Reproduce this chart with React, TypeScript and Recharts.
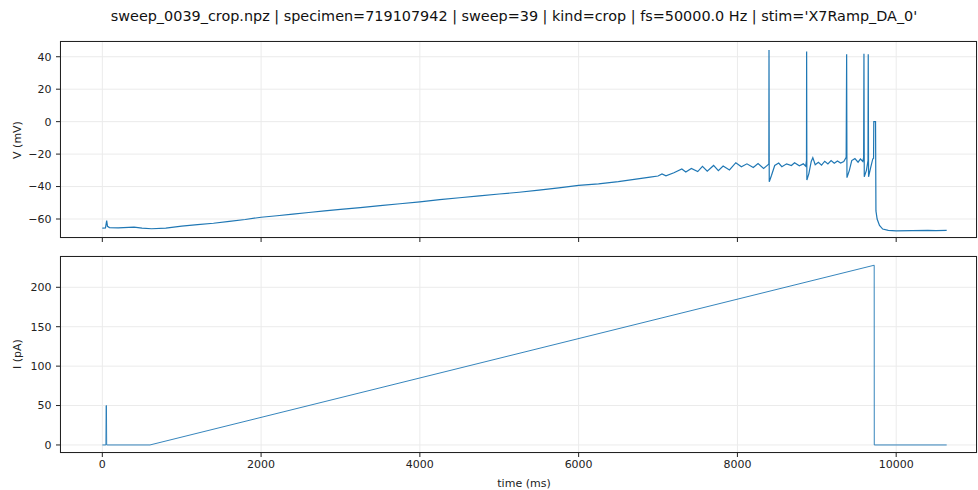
import React from "react"
import { LineChart, Line, XAxis, YAxis, CartesianGrid } from "recharts"

// time (ms) / membrane voltage (mV)
const vTime = [
  0, 40, 55, 65, 90, 200, 400, 500, 620, 800, 1000, 1200, 1400, 1600, 1800, 2000, 2200, 2400, 2600, 2800,
  3000, 3250, 3500, 3750, 4000, 4250, 4500, 4750, 5000, 5250, 5500, 5750, 6000, 6250, 6500, 6700, 6900,
  7000, 7050, 7100, 7200, 7300, 7350, 7420, 7500, 7560, 7620, 7700, 7760, 7820, 7900, 7980, 8050, 8120,
  8200, 8260, 8330, 8380, 8396, 8398, 8401, 8430, 8470, 8520, 8560, 8620, 8680, 8720, 8780, 8830, 8860,
  8870, 8872, 8875, 8900, 8930, 8950, 8980, 9020, 9060, 9100, 9140, 9180, 9220, 9260, 9300, 9340, 9370,
  9376, 9380, 9410, 9440, 9480, 9520, 9550, 9580, 9590, 9594, 9598, 9625, 9645, 9648, 9652, 9680, 9705,
  9715, 9718, 9740, 9745, 9760, 9790, 9830, 9900, 10000, 10200, 10400, 10500, 10636,
]
const vValues = [
  -65.6, -65.5, -61, -64.5, -65.3, -65.4, -65.0, -65.6, -66.0, -65.6, -64.4, -63.5, -62.6, -61.4, -60.3,
  -58.9, -58.0, -57.0, -56.0, -55.0, -54.1, -53.0, -51.8, -50.6, -49.4, -48.0, -46.9, -45.8, -44.6, -43.5,
  -42.2, -40.8, -39.3, -38.3, -37.0, -35.6, -34.2, -33.5, -32.2, -33.4, -31.5, -29.2, -31.0, -28.8, -30.8,
  -27.6, -30.5, -27.0, -30.2, -27.3, -29.8, -25.3, -27.8, -26.0, -28.3, -25.8, -28.8, -26.8, -26.0, 44.2,
  -37.0, -33.0, -27.0, -25.5, -27.8, -26.0, -27.0, -25.3, -27.2, -26.0, -27.5, -24.0, 43.2, -36.0, -32.0,
  -24.5, -22.2, -26.5, -25.0, -26.8, -24.4, -26.0, -24.0, -25.6, -24.2, -25.5, -24.6, -22.0, 41.5, -34.5,
  -30.0, -24.0, -22.8, -25.0, -23.0, -24.5, -22.0, 41.8, -34.0, -30.0, -24.0, 41.5, -34.0, -28.0, -23.0,
  -22.5, 0, 0, -55, -60, -64, -66.2, -67.0, -67.3, -67.1, -67.0, -67.1, -67.0,
]

// time (ms) / injected current (pA)
const iTime = [0, 45, 48, 52, 55, 600, 9723, 9724, 10636]
const iValues = [0, 0, 50, 50, 0, 0, 228, 0, 0]

const xTicks = [0, 2000, 4000, 6000, 8000, 10000]
const vTicks = [-60, -40, -20, 0, 20, 40]
const iTicks = [0, 50, 100, 150, 200]

const titleText =
  "sweep_0039_crop.npz | specimen=719107942 | sweep=39 | kind=crop | fs=50000.0 Hz | stim='X7Ramp_DA_0'"

const vData = vTime.map((t, i) => ({ t, v: vValues[i] }))
const iData = iTime.map((t, i) => ({ t, v: iValues[i] }))

const font = "'DejaVu Sans', sans-serif"
const tickStyle = { fontSize: 11, fill: "#222", fontFamily: font }
const blue = "#1f77b4"
const minus = (v: number) => String(v).replace("-", "\u2212")

export default function App() {
  return (
    <div style={{ position: "absolute", left: 0, top: 0, width: 978, height: 490, background: "#fff", fontFamily: font }}>
      <div style={{ position: "absolute", left: 0, top: 8, width: 1028, textAlign: "center", fontSize: 14.4, color: "#111", whiteSpace: "nowrap" }}>
        {titleText}
      </div>

      <div style={{ position: "absolute", left: 0, top: 0 }}>
        <LineChart width={978} height={250} data={vData} margin={{ top: 41, right: 1, left: 0, bottom: 2 }}>
          <CartesianGrid stroke="#ebebeb" />
          <XAxis dataKey="t" type="number" domain={[-533, 11018]} ticks={xTicks} allowDataOverflow
            height={10} tickSize={4} tickFormatter={() => ""} axisLine={false} tickLine={{ stroke: "#222" }} />
          <YAxis type="number" domain={[-71.7, 49.7]} ticks={vTicks} allowDataOverflow width={60}
            tickSize={4} tickMargin={4.5} tick={tickStyle} tickFormatter={minus} axisLine={false} tickLine={{ stroke: "#222" }} />
          <Line dataKey="v" type="linear" stroke={blue} strokeWidth={1.2} dot={false} isAnimationActive={false} />
        </LineChart>
      </div>

      <div style={{ position: "absolute", left: 0, top: 0 }}>
        <LineChart width={978} height={490} data={iData} margin={{ top: 256, right: 1, left: 0, bottom: 0 }}>
          <CartesianGrid stroke="#ebebeb" />
          <XAxis dataKey="t" type="number" domain={[-533, 11018]} ticks={xTicks} allowDataOverflow
            height={37} tickSize={4} tickMargin={3} tick={tickStyle} axisLine={false} tickLine={{ stroke: "#222" }} />
          <YAxis type="number" domain={[-10.2, 239.7]} ticks={iTicks} allowDataOverflow width={60}
            tickSize={4} tickMargin={4.5} tick={tickStyle} tickFormatter={minus} axisLine={false} tickLine={{ stroke: "#222" }} />
          <Line dataKey="v" type="linear" stroke={blue} strokeWidth={0.9} dot={false} isAnimationActive={false} />
        </LineChart>
      </div>

      <div style={{ position: "absolute", left: 60, top: 41, width: 917, height: 197, boxSizing: "border-box", border: "1px solid #222", pointerEvents: "none" }} />
      <div style={{ position: "absolute", left: 60, top: 256, width: 917, height: 197, boxSizing: "border-box", border: "1px solid #222", pointerEvents: "none" }} />

      <div style={{ position: "absolute", left: 17, top: 140, fontSize: 11, color: "#222", transform: "translate(-50%, -50%) rotate(-90deg)", whiteSpace: "nowrap" }}>
        V (mV)
      </div>
      <div style={{ position: "absolute", left: 17, top: 354, fontSize: 11, color: "#222", transform: "translate(-50%, -50%) rotate(-90deg)", whiteSpace: "nowrap" }}>
        I (pA)
      </div>
      <div style={{ position: "absolute", left: 524, top: 483, fontSize: 11, color: "#222", transform: "translate(-50%, -50%)", whiteSpace: "nowrap" }}>
        time (ms)
      </div>
    </div>
  )
}
